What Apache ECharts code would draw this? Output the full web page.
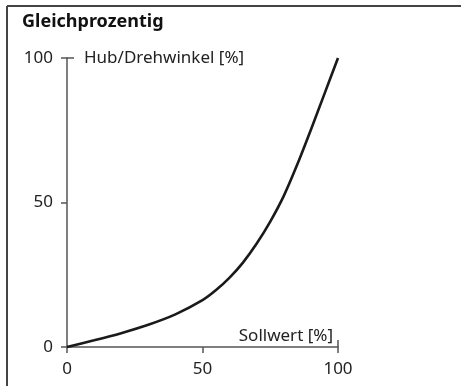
<!DOCTYPE html>
<html>
<head>
<meta charset="utf-8">
<script src="https://cdn.jsdelivr.net/npm/echarts@6/dist/echarts.min.js"></script>
<style>
  html, body { margin: 0; padding: 0; background: #fff; }
  #chart { width: 461px; height: 386px; }
</style>
</head>
<body>
<div id="chart"></div>
<script>
// Equal-percentage valve characteristic: set point vs. stroke / rotation angle
const titleText = 'Gleichprozentig';
const xName = 'Sollwert [%]';
const yName = 'Hub/Drehwinkel [%]';
const xTicks = [0, 50, 100];
const yTicks = [0, 50, 100];
const sollwert = [0, 10, 20, 30, 40, 50, 55, 60, 65, 70, 75, 80, 85, 90, 95, 100];
const hub = [0, 2.3, 4.8, 7.7, 11.3, 16.2, 19.7, 24.0, 29.3, 35.8, 43.4, 52.3, 63.2, 75.2, 87.6, 100];

const FONT = 'Noto Sans';
const AXIS = '#555';
const TXT = '#222';

const chart = echarts.init(document.getElementById('chart'), null, { renderer: 'canvas' });

chart.setOption({
  animation: false,
  backgroundColor: '#fff',
  title: {
    text: titleText,
    left: 17,
    top: 8,
    textStyle: { fontFamily: FONT, fontWeight: 'bold', fontSize: 18, color: '#111' }
  },
  grid: { left: 67, right: 123, top: 58, bottom: 39, containLabel: false },
  xAxis: [
    {
      type: 'value', min: 0, max: 100, interval: 50,
      name: xName, nameLocation: 'end', nameGap: 0,
      nameTextStyle: { fontFamily: FONT, fontSize: 17, color: TXT, align: 'right', verticalAlign: 'bottom', padding: [0, 5, 2, 0] },
      axisLine: { show: true, onZero: false, lineStyle: { color: AXIS, width: 1.5 } },
      axisTick: { show: true, length: 6, lineStyle: { color: AXIS, width: 1.5 }, customValues: xTicks },
      axisLabel: { margin: 14, fontFamily: FONT, fontSize: 17, color: TXT, customValues: xTicks },
      splitLine: { show: false }
    },
    {
      type: 'value', min: 0, max: 100, position: 'bottom',
      axisLine: { show: false },
      axisTick: { show: true, inside: true, length: 7, lineStyle: { color: AXIS, width: 1.5 }, customValues: [100] },
      axisLabel: { show: false },
      splitLine: { show: false }
    }
  ],
  yAxis: [
    {
      type: 'value', min: 0, max: 100, interval: 50,
      name: yName, nameLocation: 'end', nameGap: 0,
      nameTextStyle: { fontFamily: FONT, fontSize: 17, color: TXT, align: 'left', verticalAlign: 'middle', padding: [0, 0, 0, 17] },
      axisLine: { show: true, onZero: false, lineStyle: { color: AXIS, width: 1.5 } },
      axisTick: { show: true, length: 6, lineStyle: { color: AXIS, width: 1.5 }, customValues: yTicks },
      axisLabel: { margin: 14, fontFamily: FONT, fontSize: 17, color: TXT, customValues: yTicks },
      splitLine: { show: false }
    },
    {
      type: 'value', min: 0, max: 100, position: 'left',
      axisLine: { show: false },
      axisTick: { show: true, inside: true, length: 7, lineStyle: { color: AXIS, width: 1.5 }, customValues: [100] },
      axisLabel: { show: false },
      splitLine: { show: false }
    }
  ],
  series: [{
    type: 'line',
    data: sollwert.map((x, i) => [x, hub[i]]),
    smooth: 0.3,
    showSymbol: false,
    lineStyle: { color: '#1a1a1a', width: 2.6 },
    clip: false
  }],
  graphic: [
    // frame: top and left rule
    { type: 'line', shape: { x1: 7, y1: 6, x2: 461, y2: 6 }, style: { stroke: '#444', lineWidth: 2 } },
    { type: 'line', shape: { x1: 7, y1: 6, x2: 7, y2: 386 }, style: { stroke: '#444', lineWidth: 2 } }
  ]
});
</script>
</body>
</html>
